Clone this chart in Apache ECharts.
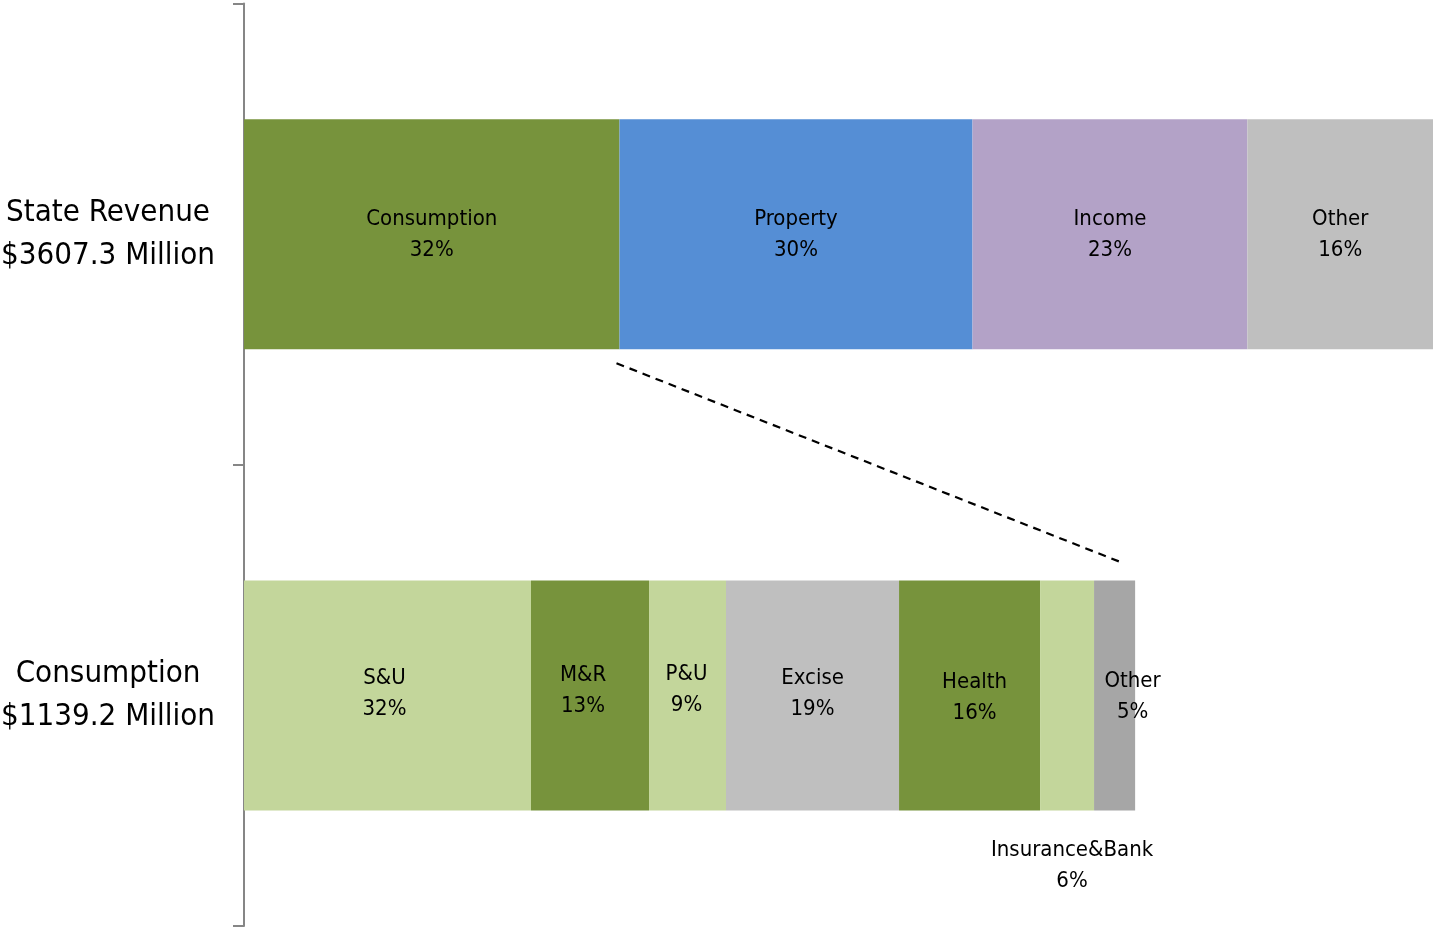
<!DOCTYPE html>
<html>
<head>
<meta charset="utf-8">
<script src="https://cdn.jsdelivr.net/npm/echarts@6/dist/echarts.min.js"></script>
<style>
html,body{margin:0;padding:0;background:#fff;}
#chart{width:1433px;height:928px;}
</style>
</head>
<body>
<div id="chart"></div>
<script>
// ---- Data ----
const topCategory = 'State Revenue\n$3607.3 Million';
const bottomCategory = 'Consumption\n$1139.2 Million';

// State revenue breakdown ($ millions)
const topNames  = ['Consumption', 'Property', 'Income', 'Other'];
const topValues = [1139.2, 1071.0, 834.0, 563.1];
const topPct    = ['32%', '30%', '23%', '16%'];
const topColors = ['#77933C', '#558ED5', '#B3A2C7', '#BFBFBF'];

// Consumption breakdown ($ millions)
const botNames  = ['S&U', 'M&R', 'P&U', 'Excise', 'Health', 'Insurance&Bank', 'Other'];
const botValues = [366.9, 150.9, 98.4, 221.2, 180.3, 69.0, 52.5];
const botPct    = ['32%', '13%', '9%', '19%', '16%', '6%', '5%'];
const botColors = ['#C3D69B', '#77933C', '#C3D69B', '#BFBFBF', '#77933C', '#C3D69B', '#A6A6A6'];
// per-label nudges [dx, dy]
const botLabelOffsets = [[-3, -2], [-7, -5], [-1, -6], [0, -2], [5, 2], [5, 170], [18, 1]];

const topAxisMax = 3607.3;
const botAxisMax = 1520;

const FONT = '"Liberation Sans Narrow", "Arial Narrow", "DejaVu Sans Condensed", sans-serif';

const chart = echarts.init(document.getElementById('chart'), null, {renderer: 'canvas'});

function yAxisCfg(gridIndex, cat) {
  return {
    type: 'category', gridIndex: gridIndex, data: [cat],
    axisLine: {show: true, lineStyle: {color: '#868686', width: 2}},
    axisTick: {show: true, length: 11, lineStyle: {color: '#868686', width: 2}},
    axisLabel: {
      show: true, margin: 136, align: 'center',
      fontFamily: FONT, fontSize: 31, lineHeight: 43, color: '#000'
    },
    splitLine: {show: false}
  };
}
function xAxisCfg(gridIndex, max) {
  return {
    type: 'value', gridIndex: gridIndex, min: 0, max: max,
    show: false, splitLine: {show: false}
  };
}

const series = [];
topNames.forEach((n, i) => {
  series.push({
    type: 'bar', name: 'top_' + n, stack: 'top', xAxisIndex: 0, yAxisIndex: 0,
    barWidth: 230, data: [topValues[i]],
    itemStyle: {color: topColors[i]},
    label: {
      show: true, position: 'inside', formatter: n + '\n' + topPct[i],
      fontFamily: FONT, fontSize: 22, lineHeight: 31, color: '#000', offset: [0, 1]
    },
    animation: false
  });
});
botNames.forEach((n, i) => {
  series.push({
    type: 'bar', name: 'bot_' + n, stack: 'bot', xAxisIndex: 1, yAxisIndex: 1,
    barWidth: 230, data: [botValues[i]],
    itemStyle: {color: botColors[i]},
    label: {
      show: true, position: 'inside', formatter: n + '\n' + botPct[i],
      fontFamily: FONT, fontSize: 22, lineHeight: 31, color: '#000',
      offset: botLabelOffsets[i]
    },
    animation: false
  });
});

chart.setOption({
  backgroundColor: '#fff',
  animation: false,
  grid: [
    {left: 244, right: 0, top: 3.5, height: 461.5, outerBoundsMode: 'none', containLabel: false},
    {left: 244, right: 0, top: 465, height: 461, outerBoundsMode: 'none', containLabel: false}
  ],
  xAxis: [xAxisCfg(0, topAxisMax), xAxisCfg(1, botAxisMax)],
  yAxis: [yAxisCfg(0, topCategory), yAxisCfg(1, bottomCategory)],
  series: series
});

// dashed connector from the Consumption segment to the breakdown bar
const consEnd = chart.convertToPixel({gridIndex: 0}, [topValues[0], 0]);
const botTotal = botValues.reduce((a, b) => a + b, 0);
const botEnd = chart.convertToPixel({gridIndex: 1}, [botTotal, 0]);
chart.setOption({
  graphic: [{
    type: 'line', silent: true,
    shape: {x1: consEnd[0] - 3, y1: consEnd[1] + 115 + 14, x2: botEnd[0] - 16, y2: botEnd[1] - 115 - 19},
    style: {stroke: '#000', lineWidth: 2.2, lineDash: [8, 6]}
  }]
});
</script>
</body>
</html>
